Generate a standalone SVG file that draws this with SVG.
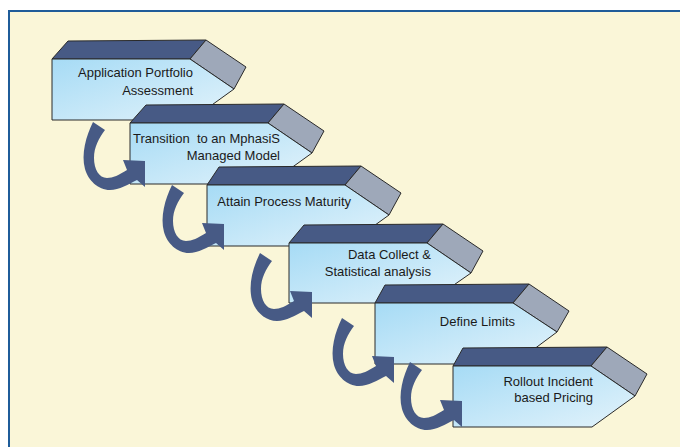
<svg xmlns="http://www.w3.org/2000/svg" width="680" height="447" viewBox="0 0 680 447">
<defs>
<linearGradient id="face" x1="0" y1="0" x2="1" y2="1">
<stop offset="0" stop-color="#a6dbf5"/>
<stop offset="1" stop-color="#e3f3fb"/>
</linearGradient>
<path id="arr" d="M0,0 C-7,14 -12,32 -8,47 C-5,58 5,68 17,68 C26,68 36,62 44,58 L52,65 L52,39 L30,38 L34,48 C26,53 20,56 14,56 C6,56 1,47 1,36 C1,25 6,16 12,8 Z"/>
</defs>
<style>
.front{fill:url(#face);stroke:#2a2a2a;stroke-width:1}
.top{fill:#475a85;stroke:#2a2a2a;stroke-width:1}
.side{fill:#9ea8b9;stroke:#2a2a2a;stroke-width:1}
.lbl{font-family:"Liberation Sans",Arial,sans-serif;font-size:13px;fill:#1a1a1a}
.arrow{fill:#475a85}
</style>
<rect x="0" y="0" width="680" height="447" fill="#ffffff"/>
<rect x="9" y="11" width="680" height="445" fill="#faf6d8" stroke="#1f5c99" stroke-width="2"/>

<g id="node1" transform="translate(52,59)">
<polygon class="top" points="0,0 16,-18 154,-19 138,0"/>
<polygon class="side" points="154,-19 194,8 182,30 138,0"/>
<polygon class="front" points="0,0 138,0 182,30 139,61 0,61"/>
</g>
<g id="node2" transform="translate(130,123)">
<polygon class="top" points="0,0 16,-18 154,-19 138,0"/>
<polygon class="side" points="154,-19 194,8 182,30 138,0"/>
<polygon class="front" points="0,0 138,0 182,30 139,61 0,61"/>
</g>
<g id="node3" transform="translate(207,185)">
<polygon class="top" points="0,0 12,-18 154,-19 138,0"/>
<polygon class="side" points="154,-19 194,8 182,30 138,0"/>
<polygon class="front" points="0,0 138,0 182,30 139,61 0,61"/>
</g>
<g id="node4" transform="translate(289,243)">
<polygon class="top" points="0,0 15,-18 154,-19 138,0"/>
<polygon class="side" points="154,-19 194,8 182,30 138,0"/>
<polygon class="front" points="0,0 138,0 182,30 139,60 0,60"/>
</g>
<g id="node5" transform="translate(375,303)">
<polygon class="top" points="0,0 10,-18 154,-19 138,0"/>
<polygon class="side" points="154,-19 194,8 182,29 138,0"/>
<polygon class="front" points="0,0 138,0 182,29 139,61 0,61"/>
</g>
<g id="node6" transform="translate(453,366)">
<polygon class="top" points="0,0 10,-18 154,-19 138,0"/>
<polygon class="side" points="154,-19 194,8 182,30 138,0"/>
<polygon class="front" points="0,0 138,0 182,30 139,61 0,61"/>
</g>

<g id="labels">
<text class="lbl" x="193" y="77" text-anchor="end">Application Portfolio</text>
<text class="lbl" x="193" y="95" text-anchor="end">Assessment</text>
<text class="lbl" x="280" y="142.5" text-anchor="end" xml:space="preserve">Transition  to an MphasiS</text>
<text class="lbl" x="280" y="159.5" text-anchor="end">Managed Model</text>
<text class="lbl" x="351" y="206" text-anchor="end">Attain Process Maturity</text>
<text class="lbl" x="431" y="259" text-anchor="end">Data Collect &amp;</text>
<text class="lbl" x="431" y="275.5" text-anchor="end">Statistical analysis</text>
<text class="lbl" x="515" y="326" text-anchor="end">Define Limits</text>
<text class="lbl" x="593" y="385.5" text-anchor="end">Rollout Incident</text>
<text class="lbl" x="593" y="402" text-anchor="end">based Pricing</text>
</g>

<g id="connectors" class="arrow">
<use href="#arr" transform="translate(93,122)"/>
<use href="#arr" transform="translate(172,185)"/>
<use href="#arr" transform="translate(260,253)"/>
<use href="#arr" transform="translate(342,318)"/>
<use href="#arr" transform="translate(410,362)"/>
</g>
</svg>
